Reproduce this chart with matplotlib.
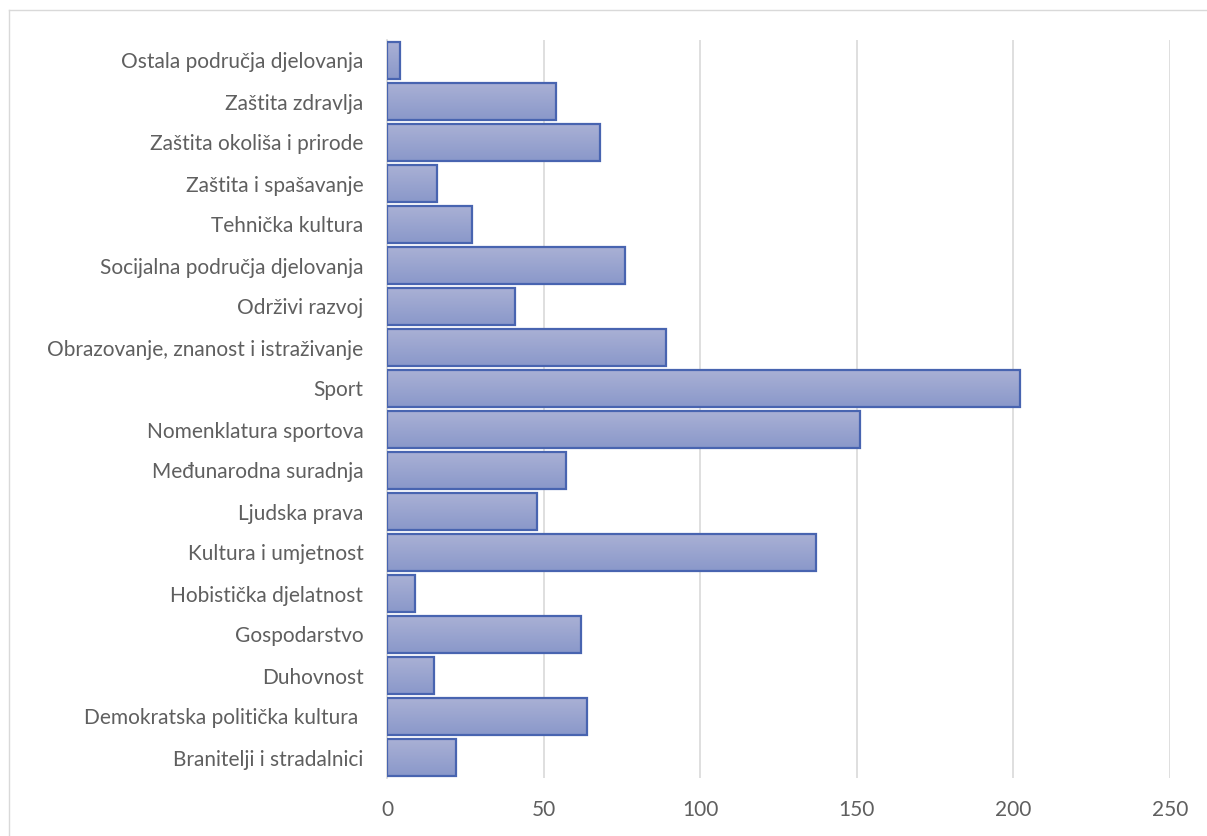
import numpy as np
import matplotlib.pyplot as plt
from matplotlib.patches import Rectangle
from matplotlib.colors import LinearSegmentedColormap

categories = ["Branitelji i stradalnici", "Demokratska politička kultura ", "Duhovnost",
              "Gospodarstvo", "Hobistička djelatnost", "Kultura i umjetnost",
              "Ljudska prava", "Međunarodna suradnja", "Nomenklatura sportova",
              "Sport", "Obrazovanje, znanost i istraživanje", "Održivi razvoj",
              "Socijalna područja djelovanja", "Tehnička kultura", "Zaštita i spašavanje",
              "Zaštita okoliša i prirode", "Zaštita zdravlja", "Ostala područja djelovanja"]
values = [22, 64, 15, 62, 9, 137, 48, 57, 151, 202, 89, 41, 76, 27, 16, 68, 54, 4]
xticks = [0, 50, 100, 150, 200, 250]

plt.rcParams['font.family'] = ['Lato', 'DejaVu Sans']

fig = plt.figure(figsize=(12.07, 8.36), dpi=100)
ax = fig.add_axes([387/1207, 1-778/836, (1170-387)/1207, (778-40)/836])

grad = LinearSegmentedColormap.from_list("g", ["#8a98ca", "#aab1d5"])
h = 0.92
for i, v in enumerate(values):
    ax.imshow(np.linspace(0, 1, 50).reshape(-1, 1), cmap=grad, aspect='auto',
              extent=[0, v, i-h/2, i+h/2], origin='lower', zorder=2)
    ax.add_patch(Rectangle((0, i-h/2), v, h, fill=False, edgecolor="#4864b0",
                           linewidth=1.6, zorder=3))

ax.set_xlim(0, 250)
ax.set_ylim(-0.5, len(values)-0.5)
ax.set_xticks(xticks)
ax.set_yticks(range(len(categories)))
ax.set_yticklabels(categories)
ax.tick_params(length=0, labelsize=15, labelcolor="#5f5f5f")
ax.tick_params(axis='y', pad=17)
ax.tick_params(axis='x', pad=16)
ax.grid(axis='x', color="#d9d9d9", linewidth=1.2, zorder=0)
ax.set_axisbelow(True)
for s in ["top", "right", "bottom"]:
    ax.spines[s].set_visible(False)
ax.spines["left"].set_color("#d9d9d9")
ax.spines["left"].set_linewidth(1.2)

fig.add_artist(plt.Line2D([9/1207, 1], [1-10/836, 1-10/836], color="#d9d9d9", lw=1))
fig.add_artist(plt.Line2D([9/1207, 9/1207], [0, 1-10/836], color="#d9d9d9", lw=1))

fig.savefig("out.png", dpi=100)
